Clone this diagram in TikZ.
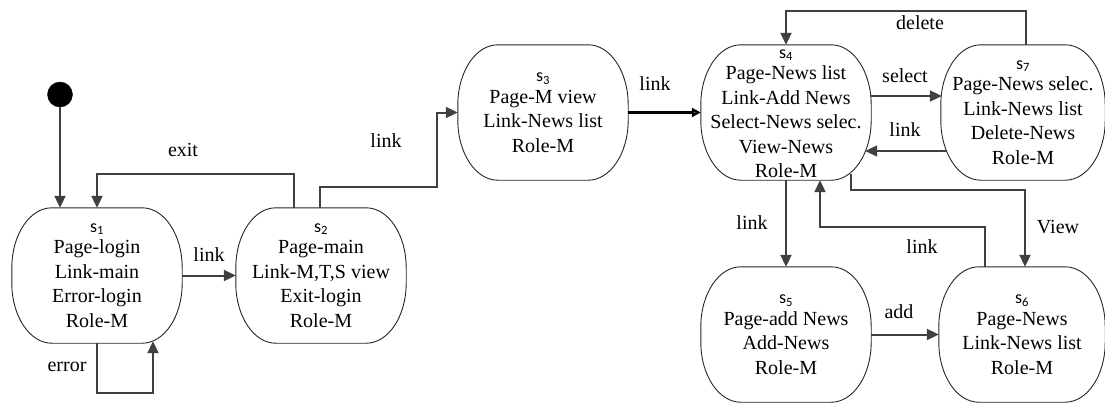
\documentclass[tikz,border=0pt]{standalone}
\usepackage{fontspec}
\setmainfont{Liberation Serif}
\newfontfamily\sfs{Carlito}
\usetikzlibrary{arrows.meta,calc}

% outline of a state: flat top and bottom, elliptic corners
\newcommand\stateoutline[1]{%
  \draw[stateline]
    ([xshift=40pt]#1.north west) -- ([xshift=-40pt]#1.north east)
    arc[start angle=90,end angle=0,x radius=40pt,y radius=60pt]
    -- ([yshift=60pt]#1.south east)
    arc[start angle=0,end angle=-90,x radius=40pt,y radius=60pt]
    -- ([xshift=40pt]#1.south west)
    arc[start angle=270,end angle=180,x radius=40pt,y radius=60pt]
    -- ([yshift=-60pt]#1.north west)
    arc[start angle=180,end angle=90,x radius=40pt,y radius=60pt]
    -- cycle;}
\newcommand\sname[1]{{\fontsize{18pt}{20pt}\sfs s\textsubscript{#1}}\\[-3pt]}

\tikzset{
  stateframe/.style={rectangle,draw=none,inner sep=0pt,minimum width=170pt,minimum height=135pt},
  stateline/.style={draw=black!85,line width=0.9pt},
  statetext/.style={align=center,inner sep=0pt,font=\fontsize{20pt}{24.5pt}\selectfont},
  lbl/.style={font=\fontsize{20pt}{24pt}\selectfont,inner sep=1pt},
  arr/.style={draw=black!75,line width=2pt,-{Triangle[length=12pt,width=11pt]}},
  arrdark/.style={draw=black,line width=2.2pt,-{Triangle[length=9pt,width=9pt,fill=black!45]}},
}

\begin{document}
\begin{tikzpicture}[x=1pt,y=-1pt]
\useasboundingbox (0,0) rectangle (1105,405);

% states
\node[stateframe] (s1) at (97,275.5) {};
\node[stateframe] (s2) at (321,275.5) {};
\node[stateframe] (s3) at (543,112.5) {};
\node[stateframe] (s4) at (786,112.5) {};
\node[stateframe,minimum width=164pt] (s7) at (1023,112.5) {};
\node[stateframe] (s5) at (786,334.5) {};
\node[stateframe,minimum width=166pt] (s6) at (1022,334.5) {};
\foreach \n in {s1,s2,s3,s4,s5,s6,s7} {\stateoutline{\n}}

\node[statetext] (s1t) at (s1) {\sname{1}Page-login\\Link-main\\Error-login\\Role-M};
\node[statetext] (s2t) at (s2) {\sname{2}Page-main\\Link-M,T,S view\\Exit-login\\Role-M};
\node[statetext] (s3t) at (s3) {\sname{3}Page-M view\\Link-News list\\Role-M};
\node[statetext] (s4t) at ($(s4)+(0,1)$) {\sname{4}Page-News list\\Link-Add News\\Select-News selec.\\View-News\\Role-M};
\node[statetext] (s7t) at (s7) {\sname{7}Page-News selec.\\Link-News list\\Delete-News\\Role-M};
\node[statetext] (s5t) at (s5) {\sname{5}Page-add News\\Add-News\\Role-M};
\node[statetext] (s6t) at (s6) {\sname{6}Page-News\\Link-News list\\Role-M};

% initial state
\node[circle,fill=black,draw=black,minimum size=25pt,inner sep=0pt] (init) at (60,94.5) {};

% transitions
\draw[arr] (init) -- (init |- s1.north);
\draw[arr] (s1.east) -- (s2.west);
\draw[arr] ([xshift=-27pt]s2.north) -- ++(0,-34) -| (s1.north);
\draw[arr] (s1.south) -- ++(0,50) -| ([xshift=56pt,yshift=2pt]s1.south);
\draw[arr] ([xshift=-1pt]s2.north) -- ++(0,-21) -| ($(s3.west)+(-21,0)$) -- (s3.west);
\draw[arrdark] (s3.east) -- (s4.west);
\draw[arr] ([yshift=16.5pt]s4.east) -- ([xshift=1pt,yshift=16.5pt]s7.west);
\draw[arr] ([xshift=6pt,yshift=-38.5pt]s7.west) -- ([xshift=-6pt,yshift=-38.5pt]s4.east);
\draw[arr] ([xshift=3pt]s7.north) -- ++(0,-34) -| (s4.north);
\draw[arr] (s4.south) -- (s5.north);
\draw[arr] ([xshift=-37pt]s6.north) -- ++(0,-40) -| ([xshift=34pt]s4.south);
\draw[arr] ([xshift=65pt,yshift=6pt]s4.south) |- ($(s6.north)+(3,-77)$) -- ([xshift=3pt]s6.north);
\draw[arr] (s5.east) -- (s6.west);

% transition labels
\node[lbl] (lexit) at (183,150) {exit};
\node[lbl] (llink1) at (209,255) {link};
\node[lbl] (lerror) at (67,367) {error};
\node[lbl] (llink2) at (386,141) {link};
\node[lbl] (llink3) at (655,84) {link};
\node[lbl] (lselect) at (905,76) {select};
\node[lbl] (llink4) at (905,130) {link};
\node[lbl] (ldelete) at (920,23) {delete};
\node[lbl] (llink5) at (752,223) {link};
\node[lbl] (llink6) at (922,247) {link};
\node[lbl] (lview) at (1058,227) {View};
\node[lbl] (ladd) at (899,312) {add};
\end{tikzpicture}
\end{document}
